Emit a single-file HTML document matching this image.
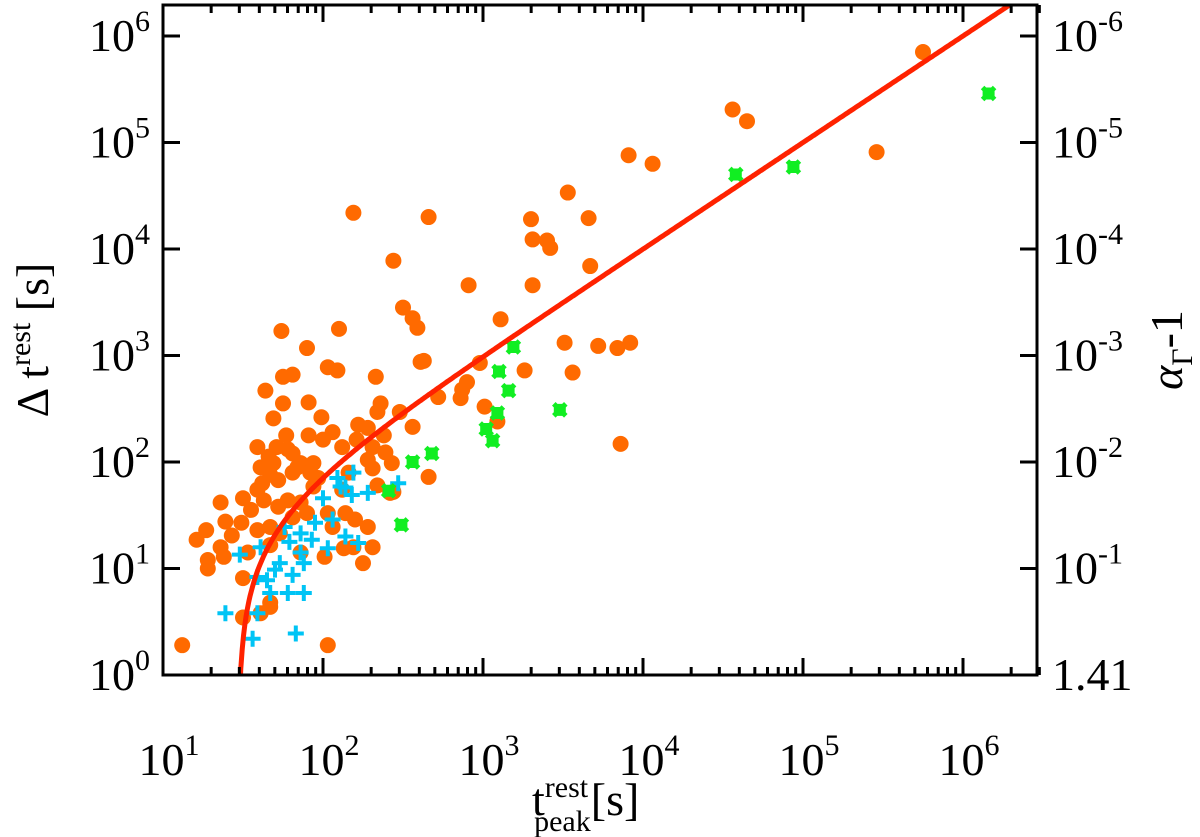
<!DOCTYPE html>
<html><head><meta charset="utf-8"><style>
html,body{margin:0;padding:0;background:#fff}
svg{display:block}
text{font-family:"Liberation Serif",serif;fill:#000}
</style></head><body>
<svg id="chart" width="1200" height="837" viewBox="0 0 1200 837" xmlns="http://www.w3.org/2000/svg"></svg>
<script>
// ---- data (log10 units) ----
const orangeLogT=[1.74,2.10,1.90,2.50,2.56,2.59,2.03,2.09,1.75,1.81,2.33,1.64,1.75,1.91,2.36,2.34,1.69,1.99,2.48,1.77,1.91,2.06,2.22,2.28,2.38,2.56,2.61,1.59,1.71,1.81,2.00,2.12,2.21,2.31,2.39,1.61,1.69,1.86,1.94,1.67,1.72,1.81,1.92,2.28,2.43,2.31,1.36,1.50,1.59,1.63,1.78,1.86,1.94,2.12,2.44,2.34,1.39,1.49,1.59,1.67,1.43,1.21,1.27,1.36,1.28,1.28,1.38,1.53,1.50,1.81,1.90,2.03,2.06,2.14,2.20,2.28,2.13,2.19,2.31,2.25,2.01,1.67,1.73,1.86,1.67,1.61,1.50,1.12,2.03,2.42,1.67,2.19,2.66,3.53,3.30,3.66,3.31,3.40,3.42,2.44,3.67,2.91,3.31,3.11,2.63,2.98,3.51,3.72,3.84,3.92,3.26,3.56,2.90,2.87,2.86,2.72,3.01,3.09,2.66,3.86,3.91,4.06,4.56,4.65,5.46,5.75,1.66,1.78,1.84,1.97,2.16,1.55,1.62,1.72];
const orangeLogDt=[3.23,3.25,3.07,3.45,3.35,3.26,2.89,2.86,2.80,2.82,2.80,2.67,2.55,2.56,2.55,2.47,2.41,2.42,2.47,2.25,2.25,2.28,2.35,2.32,2.25,2.33,2.94,2.14,2.14,2.08,2.21,2.14,2.21,2.14,2.09,1.95,1.99,1.99,1.99,1.88,1.83,1.90,1.90,2.02,1.99,1.94,1.62,1.66,1.74,1.64,1.64,1.62,1.77,1.74,1.72,1.78,1.44,1.43,1.36,1.39,1.31,1.27,1.36,1.20,1.08,1.00,1.11,1.15,0.91,1.48,1.52,1.52,1.39,1.52,1.46,1.39,1.19,1.20,1.20,1.05,1.11,1.22,1.33,1.15,0.68,0.58,0.54,0.28,0.28,1.71,0.64,4.34,4.30,4.53,4.28,4.29,4.09,4.08,4.01,3.89,3.84,3.66,3.66,3.34,2.95,2.93,3.12,3.09,3.07,3.12,2.86,2.84,2.75,2.68,2.60,2.61,2.52,2.38,1.86,2.17,4.88,4.80,5.31,5.20,4.91,5.85,2.05,2.12,1.95,1.85,1.90,1.55,1.80,1.58];
const blueLogT=[2.19,2.09,2.14,2.18,2.28,2.47,2.00,2.06,1.95,1.76,1.86,1.93,1.79,2.14,2.22,2.03,1.61,1.48,1.86,1.88,1.73,1.70,1.81,1.59,1.65,1.67,1.78,1.88,1.39,1.59,1.83,1.56,2.11];
const blueLogDt=[1.90,1.85,1.76,1.69,1.71,1.80,1.66,1.46,1.43,1.39,1.33,1.27,1.25,1.30,1.24,1.19,1.20,1.13,1.15,1.05,1.05,0.99,0.94,0.92,0.89,0.77,0.77,0.77,0.58,0.58,0.39,0.34,1.77];
const greenLogT=[2.56,2.41,2.49,3.19,3.10,3.16,3.48,3.09,3.02,3.06,2.68,4.58,4.94,6.16];
const greenLogDt=[2.00,1.73,1.41,3.08,2.85,2.67,2.49,2.46,2.31,2.20,2.08,4.70,4.77,5.46];
const modelT0=[29.5];
const xTickExp=[1,2,3,4,5,6];
const yTickExp=[0,1,2,3,4,5,6];
const rightTickLabels=["1.41","10|-1","10|-2","10|-3","10|-4","10|-5","10|-6"];

const L=163,R=1037,T=5,B=675;
const xDec=160,yDec=106.5;
const X=lt=>L+(lt-1)*xDec;
const Y=ld=>B-ld*yDec;
const NS="http://www.w3.org/2000/svg";
const svg=document.getElementById('chart');
function mk(tag,attrs,parent){const e=document.createElementNS(NS,tag);for(const k in attrs)e.setAttribute(k,attrs[k]);(parent||svg).appendChild(e);return e;}

const defs=mk('defs',{});
const cp=mk('clipPath',{id:'clip'},defs);
mk('rect',{x:L,y:T,width:R-L,height:B-T},cp);
const plot=mk('g',{'clip-path':'url(#clip)'});



orangeLogT.forEach((lt,i)=>{const c=mk('circle',{cx:X(lt),cy:Y(orangeLogDt[i]),r:8,fill:'#ff6a00'},plot);

});
blueLogT.forEach((lt,i)=>{const x=X(lt),y=Y(blueLogDt[i]);const p=mk('path',{d:`M${x-8} ${y}H${x+8}M${x} ${y-8}V${y+8}`,stroke:'#00c4f5','stroke-width':4,fill:'none'},plot);

});
greenLogT.forEach((lt,i)=>{const x=X(lt),y=Y(greenLogDt[i]);const p=mk('path',{d:`M${x-6} ${y-6}L${x+6} ${y+6}M${x-6} ${y+6}L${x+6} ${y-6}M${x-6} ${y}H${x+6}M${x} ${y-6}V${y+6}`,stroke:'#11ee22','stroke-width':5,fill:'none'},plot);

});
let d='';const t0=modelT0[0];
for(let k=0;k<=600;k++){const lt=Math.log10(t0*1.0005)+k*(6.4-Math.log10(t0))/600;const t=Math.pow(10,lt);const dt=t-t0;const ld=Math.max(-0.2,Math.log10(dt));d+=(k?'L':'M')+X(lt).toFixed(1)+' '+Y(ld).toFixed(1);}
const curve=mk('path',{d:d,stroke:'#ff2200','stroke-width':5,fill:'none'},plot);



const frame=mk('rect',{x:L,y:T,width:R-L,height:B-T,fill:'none',stroke:'#000','stroke-width':3});


let tk='';
for(let e=1;e<=6;e++){for(let m=1;m<10;m++){const lt=e+Math.log10(m);if(lt>6.48)continue;const x=X(lt);const len=m===1?17:8;tk+=`M${x} ${B}V${B-len}M${x} ${T}V${T+len}`;}}
yTickExp.forEach(e=>{const y=Y(e);tk+=`M${L} ${y}H${L+17}M${R} ${y}H${R-17}`;});
const ticks=mk('path',{d:tk,stroke:'#000','stroke-width':3,fill:'none'});



function pow10(x,y,exp,anchor,name){const t=mk('text',{x:x,y:y,'font-size':46,'text-anchor':anchor});


t.appendChild(document.createTextNode('10'));const s=mk('tspan',{'font-size':30,dy:-20},t);s.textContent=exp;return t;}
xTickExp.forEach(e=>{pow10(X(e)+6,775,String(e),'middle','x-tick-label');});
yTickExp.forEach(e=>{pow10(150,Y(e)+15,String(e),'end','y-tick-label');});
rightTickLabels.forEach((lab,i)=>{const y=Y(yTickExp[i])+15;
if(lab.indexOf('|')<0){const t=mk('text',{x:1052,y:y,'font-size':46});t.textContent=lab;

}
else{pow10(1052,y,lab.split('|')[1],'start','right-tick-label');}});

const xt=mk('text',{x:532,y:815,'font-size':46});


xt.appendChild(document.createTextNode('t'));
const a1=mk('tspan',{'font-size':30,dy:-18},xt);a1.textContent='rest';
const a2=mk('tspan',{'font-size':30,dx:-54,dy:34},xt);a2.textContent='peak';
const a3=mk('tspan',{dy:-16},xt);a3.textContent='[s]';

const yt=mk('text',{x:0,y:0,'font-size':46,transform:'translate(48,340) rotate(-90)','text-anchor':'middle'});


yt.appendChild(document.createTextNode('Δ t'));
const b1=mk('tspan',{'font-size':30,dy:-18},yt);b1.textContent='rest';
const b2=mk('tspan',{dy:18},yt);b2.textContent=' [s]';

const rt=mk('text',{x:0,y:0,'font-size':46,transform:'translate(1182,350) rotate(-90)','text-anchor':'middle'});


const c0=mk('tspan',{'font-style':'italic'},rt);c0.textContent='α';
const c1=mk('tspan',{'font-size':30,dy:10},rt);c1.textContent='Γ';
const c2=mk('tspan',{dy:-10},rt);c2.textContent='-1';
</script>
</body></html>
